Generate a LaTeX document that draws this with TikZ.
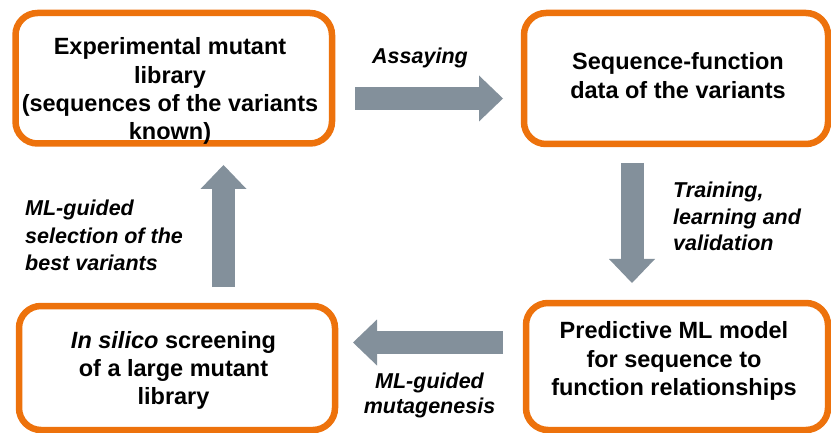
\documentclass[tikz,border=0pt]{standalone}
\usepackage{fontspec}
\setmainfont{Liberation Sans}
\usetikzlibrary{arrows.meta,calc}
\definecolor{boxorange}{RGB}{237,114,12}
\definecolor{arrowgray}{RGB}{131,144,155}
\begin{document}
\begin{tikzpicture}[x=1pt,y=-1pt,
  box/.style={draw=boxorange, line width=6.5pt, rounded corners=22pt, fill=white, inner sep=0pt, outer sep=0pt},
  boxtext/.style={font=\fontsize{23.5}{28.3}\selectfont\bfseries, align=center, anchor=north, inner sep=0pt},
  lbl/.style={font=\fontsize{21.5}{27}\selectfont\bfseries\itshape, inner sep=0pt},
  flow/.style={draw=arrowgray, line width=23pt, -{Triangle[length=24pt,width=46pt,line width=0pt]}}]
\useasboundingbox (0,0) rectangle (831,433);

\node[box, minimum width=316.5pt, minimum height=130.5pt] (b1) at (173.75,78.25) {};
\node[box, minimum width=304pt, minimum height=131pt] (b2) at (676,78.5) {};
\node[box, minimum width=316pt, minimum height=124pt] (b3) at (177,368) {};
\node[box, minimum width=302pt, minimum height=127pt] (b4) at (677,366.5) {};

\node[boxtext] (t1) at (170,37.5) {Experimental mutant\\library\\(sequences of the variants\\known)};
\node[boxtext] (t2) at (678,52.5) {Sequence-function\\data of the variants};
\node[boxtext] (t3) at (173.5,331) {\textit{In silico} screening\\of a large mutant\\library};
\node[boxtext] (t4) at (674,321.5) {Predictive ML model\\for sequence to\\function relationships};

\draw[flow] ($(b1.east)+(23,20.25)$) -- ($(b2.west)+(-21,20)$);
\draw[flow] ($(b2.south)+(-44,19)$) -- ($(b4.north)+(-45,-20)$);
\draw[flow] ($(b4.west)+(-23,-24)$) -- ($(b3.east)+(18,-25.5)$);
\draw[flow] ($(b3.north)+(46.5,-19)$) -- ($(b1.south)+(49.75,21.5)$);

\node[lbl, anchor=north] (l1) at (420,48) {Assaying};
\node[lbl, anchor=north, align=center, font=\fontsize{21.5}{25}\selectfont\bfseries\itshape] (l2) at (429.5,373) {ML-guided\\mutagenesis};
\node[lbl, anchor=north west, align=left, font=\fontsize{21.5}{27.5}\selectfont\bfseries\itshape] (l3) at (25,200) {ML-guided\\selection of the\\best variants};
\node[lbl, anchor=north west, align=left, font=\fontsize{21.5}{26.5}\selectfont\bfseries\itshape] (l4) at (673,182) {Training,\\learning and\\validation};
\end{tikzpicture}
\end{document}
